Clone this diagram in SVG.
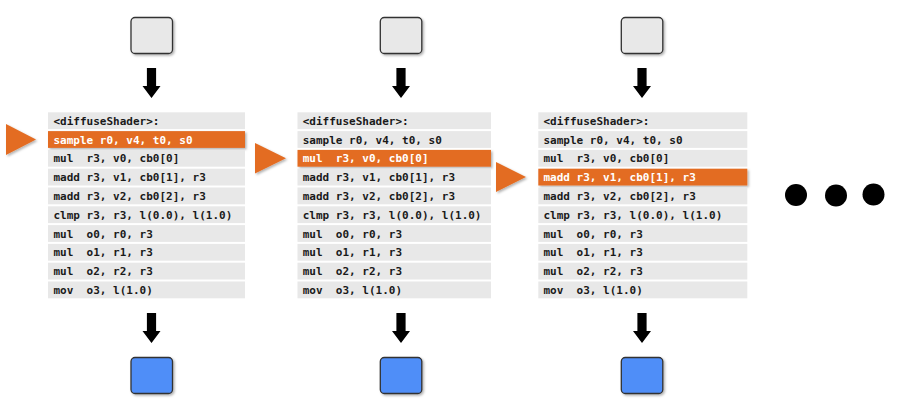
<svg xmlns="http://www.w3.org/2000/svg" width="900" height="411" viewBox="0 0 900 411">
<defs>
<style>
.row{fill:#e8e8e8}
.hi{fill:#e36c22}
.t{font-family:"DejaVu Sans Mono","Liberation Mono",monospace;font-weight:bold;font-size:11px;fill:#1a1a1a;white-space:pre}
.tw{fill:#ffffff}
.src{fill:#e8e8e8;stroke:#333;stroke-width:1.3}
.dst{fill:#4f8ef8;stroke:#333;stroke-width:1.3}
.arr{fill:#000}
.tri{fill:#e36c22}
</style>
<filter id="sh" x="-20%" y="-20%" width="150%" height="150%">
<feDropShadow dx="1.5" dy="1.5" stdDeviation="1" flood-color="#000" flood-opacity="0.3"/>
</filter>
<g id="down">
<polygon class="arr" points="-4.6,0 4.6,0 4.6,18 9,18 0,30 -9,18 -4.6,18"/>
</g>
</defs>

<g id="connectors">
<use href="#down" x="151.5" y="68"/>
<use href="#down" x="151.5" y="313"/>
<use href="#down" x="401" y="68"/>
<use href="#down" x="401" y="313"/>
<use href="#down" x="642" y="68"/>
<use href="#down" x="642" y="313"/>
</g>

<g id="input1"><rect class="src" x="131" y="17.5" width="41.5" height="36" rx="4" filter="url(#sh)"/></g>
<g id="input2"><rect class="src" x="380.3" y="17.5" width="41.5" height="36" rx="4" filter="url(#sh)"/></g>
<g id="input3"><rect class="src" x="621.3" y="17.5" width="41.5" height="36" rx="4" filter="url(#sh)"/></g>

<g id="output1"><rect class="dst" x="131" y="357.5" width="41.5" height="36" rx="4" filter="url(#sh)"/></g>
<g id="output2"><rect class="dst" x="380.3" y="357.5" width="41.5" height="36" rx="4" filter="url(#sh)"/></g>
<g id="output3"><rect class="dst" x="621.3" y="357.5" width="41.5" height="36" rx="4" filter="url(#sh)"/></g>

<g id="pointer1"><polygon class="tri" points="6,124 36,139.5 6,155" filter="url(#sh)"/></g>
<g id="pointer2"><polygon class="tri" points="255,143 286,158.3 255,173.5" filter="url(#sh)"/></g>
<g id="pointer3"><polygon class="tri" points="496,162 526,177 496,192" filter="url(#sh)"/></g>

<g id="shader1">
<rect class="row" x="48" y="112.3" width="197" height="16.8"/>
<rect class="hi" x="48" y="131.1" width="197" height="16.8" filter="url(#sh)"/>
<rect class="row" x="48" y="149.9" width="197" height="16.8"/>
<rect class="row" x="48" y="168.7" width="197" height="16.8"/>
<rect class="row" x="48" y="187.5" width="197" height="16.8"/>
<rect class="row" x="48" y="206.3" width="197" height="16.8"/>
<rect class="row" x="48" y="225.1" width="197" height="16.8"/>
<rect class="row" x="48" y="243.9" width="197" height="16.8"/>
<rect class="row" x="48" y="262.7" width="197" height="16.8"/>
<rect class="row" x="48" y="281.5" width="197" height="16.8"/>
<text class="t" x="53.5" y="124.8">&lt;diffuseShader&gt;:</text>
<text class="t tw" x="53.5" y="143.6">sample r0, v4, t0, s0</text>
<text class="t" x="53.5" y="162.4">mul  r3, v0, cb0[0]</text>
<text class="t" x="53.5" y="181.2">madd r3, v1, cb0[1], r3</text>
<text class="t" x="53.5" y="200">madd r3, v2, cb0[2], r3</text>
<text class="t" x="53.5" y="218.8">clmp r3, r3, l(0.0), l(1.0)</text>
<text class="t" x="53.5" y="237.6">mul  o0, r0, r3</text>
<text class="t" x="53.5" y="256.4">mul  o1, r1, r3</text>
<text class="t" x="53.5" y="275.2">mul  o2, r2, r3</text>
<text class="t" x="53.5" y="294">mov  o3, l(1.0)</text>
</g>

<g id="shader2">
<rect class="row" x="297.5" y="112.3" width="193.5" height="16.8"/>
<rect class="row" x="297.5" y="131.1" width="193.5" height="16.8"/>
<rect class="hi" x="297.5" y="149.9" width="193.5" height="16.8" filter="url(#sh)"/>
<rect class="row" x="297.5" y="168.7" width="193.5" height="16.8"/>
<rect class="row" x="297.5" y="187.5" width="193.5" height="16.8"/>
<rect class="row" x="297.5" y="206.3" width="193.5" height="16.8"/>
<rect class="row" x="297.5" y="225.1" width="193.5" height="16.8"/>
<rect class="row" x="297.5" y="243.9" width="193.5" height="16.8"/>
<rect class="row" x="297.5" y="262.7" width="193.5" height="16.8"/>
<rect class="row" x="297.5" y="281.5" width="193.5" height="16.8"/>
<text class="t" x="302.7" y="124.8">&lt;diffuseShader&gt;:</text>
<text class="t" x="302.7" y="143.6">sample r0, v4, t0, s0</text>
<text class="t tw" x="302.7" y="162.4">mul  r3, v0, cb0[0]</text>
<text class="t" x="302.7" y="181.2">madd r3, v1, cb0[1], r3</text>
<text class="t" x="302.7" y="200">madd r3, v2, cb0[2], r3</text>
<text class="t" x="302.7" y="218.8">clmp r3, r3, l(0.0), l(1.0)</text>
<text class="t" x="302.7" y="237.6">mul  o0, r0, r3</text>
<text class="t" x="302.7" y="256.4">mul  o1, r1, r3</text>
<text class="t" x="302.7" y="275.2">mul  o2, r2, r3</text>
<text class="t" x="302.7" y="294">mov  o3, l(1.0)</text>
</g>

<g id="shader3">
<rect class="row" x="538.3" y="112.3" width="209" height="16.8"/>
<rect class="row" x="538.3" y="131.1" width="209" height="16.8"/>
<rect class="row" x="538.3" y="149.9" width="209" height="16.8"/>
<rect class="hi" x="538.3" y="168.7" width="209" height="16.8" filter="url(#sh)"/>
<rect class="row" x="538.3" y="187.5" width="209" height="16.8"/>
<rect class="row" x="538.3" y="206.3" width="209" height="16.8"/>
<rect class="row" x="538.3" y="225.1" width="209" height="16.8"/>
<rect class="row" x="538.3" y="243.9" width="209" height="16.8"/>
<rect class="row" x="538.3" y="262.7" width="209" height="16.8"/>
<rect class="row" x="538.3" y="281.5" width="209" height="16.8"/>
<text class="t" x="543.5" y="124.8">&lt;diffuseShader&gt;:</text>
<text class="t" x="543.5" y="143.6">sample r0, v4, t0, s0</text>
<text class="t" x="543.5" y="162.4">mul  r3, v0, cb0[0]</text>
<text class="t tw" x="543.5" y="181.2">madd r3, v1, cb0[1], r3</text>
<text class="t" x="543.5" y="200">madd r3, v2, cb0[2], r3</text>
<text class="t" x="543.5" y="218.8">clmp r3, r3, l(0.0), l(1.0)</text>
<text class="t" x="543.5" y="237.6">mul  o0, r0, r3</text>
<text class="t" x="543.5" y="256.4">mul  o1, r1, r3</text>
<text class="t" x="543.5" y="275.2">mul  o2, r2, r3</text>
<text class="t" x="543.5" y="294">mov  o3, l(1.0)</text>
</g>

<g id="ellipsis">
<circle cx="796" cy="195" r="11"/>
<circle cx="836" cy="195.5" r="11"/>
<circle cx="873.5" cy="194.5" r="11"/>
</g>
</svg>
